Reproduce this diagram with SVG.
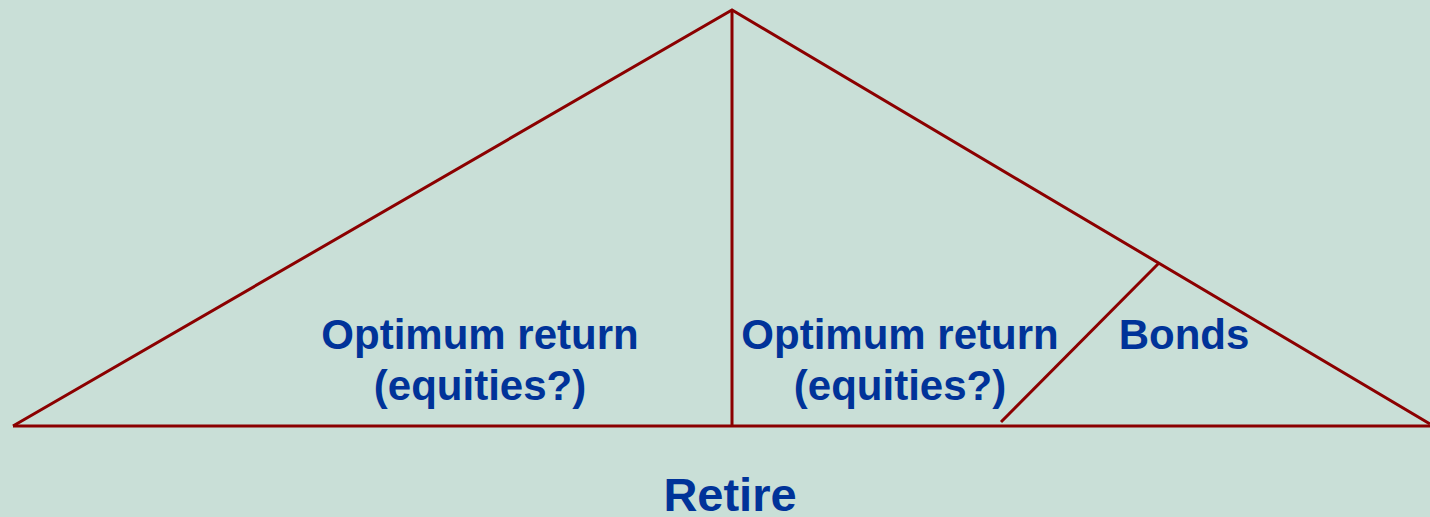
<svg xmlns="http://www.w3.org/2000/svg" width="1430" height="517" viewBox="0 0 1430 517">
<style>
.ln{stroke:#8B0000;stroke-width:3;fill:none;stroke-linecap:butt}
.t{font-family:"Liberation Sans",Arial,sans-serif;font-weight:bold;font-size:42px;fill:#003399;text-anchor:middle}
</style>
<rect width="1430" height="517" fill="#C9DFD7"/>
<g id="connectors">
<path class="ln" d="M13,426 L732,10 L1430,424"/>
<path class="ln" d="M13,426 L1430,426"/>
<path class="ln" d="M732,10 L732,426"/>
<path class="ln" d="M1001,422 L1159,263"/>
</g>
<g id="left"><text class="t" x="480" y="349">Optimum return</text><text class="t" x="480" y="400">(equities?)</text></g>
<g id="middle"><text class="t" x="900" y="349">Optimum return</text><text class="t" x="900" y="400">(equities?)</text></g>
<g id="bonds"><text class="t" x="1184" y="349">Bonds</text></g>
<g id="retire"><text class="t" x="730" y="511" style="font-size:47px">Retire</text></g>
</svg>
